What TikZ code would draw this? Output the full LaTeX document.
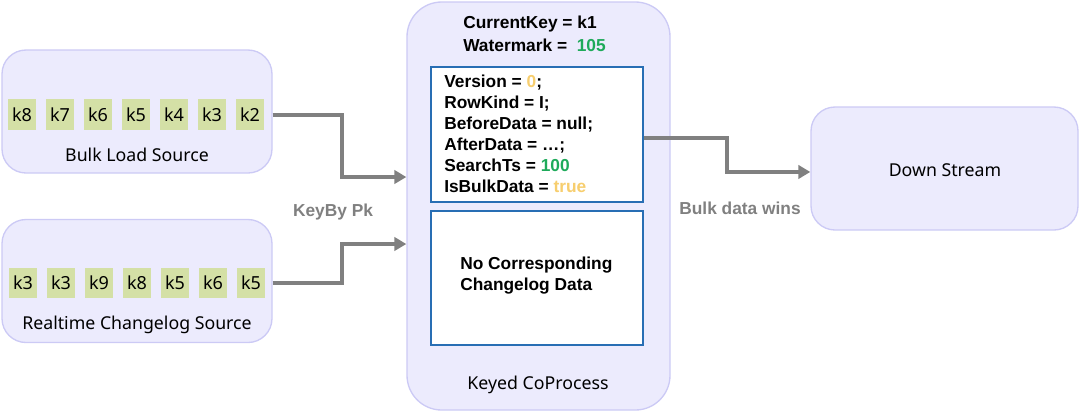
\documentclass[tikz,border=0pt]{standalone}
\usepackage{fontspec}
\setmainfont{Liberation Sans}
\newfontfamily\softfont{Noto Sans}
\usetikzlibrary{arrows.meta, positioning}

\definecolor{boxfill}{RGB}{236,235,253}
\definecolor{boxline}{RGB}{204,202,245}
\definecolor{keyfill}{RGB}{212,224,166}
\definecolor{flowgray}{RGB}{128,128,128}
\definecolor{recline}{RGB}{40,110,180}
\definecolor{wmgreen}{RGB}{30,170,90}
\definecolor{flagyellow}{RGB}{247,206,110}

\tikzset{
  stage/.style={draw=boxline, line width=1pt, fill=boxfill, rounded corners=18pt, minimum width=202.5pt, minimum height=92.25pt},
  keybox/.style={fill=keyfill, minimum width=21pt, minimum height=23pt, inner sep=0pt, font=\softfont\fontsize{13.5}{13.5}\selectfont},
  record/.style={draw=recline, line width=1.2pt, fill=white, minimum width=159pt, minimum height=101pt},
  flow/.style={draw=flowgray, line width=3pt, -{Triangle[length=9pt,width=10pt]}},
  caption/.style={font=\softfont\fontsize{13.3}{15}\selectfont},
  hint/.style={font=\bfseries\fontsize{13}{14}\selectfont, text=flowgray},
  field/.style={font=\bfseries\fontsize{13}{15.75}\selectfont, align=left, inner sep=0pt}
}

\begin{document}
\begin{tikzpicture}[x=0.75pt,y=-0.75pt]

\useasboundingbox (0,0) rectangle (1080,412);

% Stages
\node [stage] (bulk) at (137,111.5) {};
\node [stage] (rt) at (137,281) {};
\node [stage, rounded corners=26pt, minimum width=197.25pt, minimum height=306pt] (proc) at (538.5,206) {};
\node [stage, minimum width=200.25pt] (down) at (944.5,168.5) {};

% Key queues
\foreach \k [count=\i] in {8,7,6,5,4,3,2}
  \node [keybox] (b\i) at (22+38*\i-38,114.5) {k\k};
\foreach \k [count=\i] in {3,3,9,8,5,6,5}
  \node [keybox] (r\i) at (23+38*\i-38,283) {k\k};

% Records in the co-process
\node [record] (rec) at (537,134.5) {};
\node [record, minimum height=100.5pt] (nodata) at (537,278) {};

% Text Node
\node [caption] (bulklabel) at (137,155) {Bulk Load Source};
\node [caption] (rtlabel) at (137,325) {Realtime Changelog Source};
\node [caption] (proclabel) at (538,385) {Keyed CoProcess};
\node [caption] (downlabel) at (945,170) {Down Stream};
\node [field, font=\bfseries\fontsize{13}{17.25}\selectfont, anchor=west] (state) at (463,33.5)
  {CurrentKey = k1\\Watermark = \ \textcolor{wmgreen}{105}};
\node [field, anchor=west] (fields) at (444,134)
  {Version = \textcolor{flagyellow}{0};\\RowKind = I;\\BeforeData = null;\\AfterData = \dots;\\SearchTs = \textcolor{wmgreen}{100}\\IsBulkData = \textcolor{flagyellow}{true}};
\node [field, anchor=west] (nodatalabel) at (460,275.5) {No Corresponding\\Changelog Data};
\node [hint] (keyby) at (333,212) {KeyBy Pk};
\node [hint] (wins) at (740,208) {Bulk data wins};

% Flows
\coordinate (in1) at (proc.west |- 0,177);
\coordinate (in2) at (proc.west |- 0,244);
\draw [flow] (bulk.east |- b7) -- ++(69,0) |- (in1);
\draw [flow] (rt.east |- r7) -- ++(69,0) |- (in2);
\draw [flow] ([yshift=-2.6pt]rec.east) -- ++(83,0) |- ([yshift=-2.6pt]down.west);

\end{tikzpicture}
\end{document}
